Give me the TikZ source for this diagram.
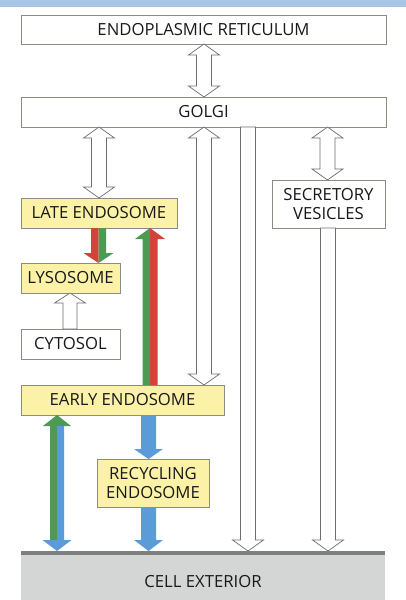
\documentclass[tikz,border=0pt]{standalone}
\usepackage{fontspec}
\setmainfont{Open Sans}
\usetikzlibrary{calc}
\definecolor{bandblue}{HTML}{A7C5E5}
\definecolor{boxline}{HTML}{8C8C84}
\definecolor{yel}{HTML}{FBF2A8}
\definecolor{arline}{HTML}{6E6E6E}
\definecolor{ared}{HTML}{D2443A}
\definecolor{agreen}{HTML}{4E9A55}
\definecolor{ablue}{HTML}{5B9BD8}
\definecolor{extfill}{HTML}{D3D6D4}
\definecolor{extline}{HTML}{7D807F}
\tikzset{
  lbl/.style={font=\fontsize{16.7}{19}\selectfont, text=black!90},
  box/.style={lbl, draw=boxline, line width=0.8pt, inner sep=0pt, outer sep=0pt, align=center},
  ybox/.style={box, fill=yel},
  wbox/.style={box, fill=white},
  hollow/.style={draw=arline, fill=white, line width=0.7pt, line join=miter},
}
% double headed hollow arrow: #1 x-coordinate, #2 top anchor, #3 bottom anchor
\newcommand\vdbl[3]{%
  \draw[hollow] let \p1=(#1 |- #2), \p2=(#1 |- #3) in
    (\x1,\y1) -- (\x1+15.5pt,\y1-11pt) -- (\x1+7.5pt,\y1-11pt) -- (\x1+7.5pt,\y2+11pt)
    -- (\x1+15.5pt,\y2+11pt) -- (\x2,\y2) -- (\x1-15.5pt,\y2+11pt) -- (\x1-7.5pt,\y2+11pt)
    -- (\x1-7.5pt,\y1-11pt) -- (\x1-15.5pt,\y1-11pt) -- cycle;}
% single headed hollow arrow pointing down
\newcommand\vdown[3]{%
  \draw[hollow] let \p1=(#1 |- #2), \p2=(#1 |- #3) in
    (\x1-7.5pt,\y1) -- (\x1+7.5pt,\y1) -- (\x1+7.5pt,\y2+11pt)
    -- (\x1+15.5pt,\y2+11pt) -- (\x2,\y2) -- (\x1-15.5pt,\y2+11pt) -- (\x1-7.5pt,\y2+11pt) -- cycle;}
% single headed hollow arrow pointing up
\newcommand\vup[3]{%
  \draw[hollow] let \p1=(#1 |- #2), \p2=(#1 |- #3) in
    (\x1,\y1) -- (\x1+15.5pt,\y1-10pt) -- (\x1+7pt,\y1-10pt) -- (\x1+7pt,\y2)
    -- (\x1-7pt,\y2) -- (\x1-7pt,\y1-10pt) -- (\x1-15.5pt,\y1-10pt) -- cycle;}
% two-tone arrow pointing down: #4 left colour, #5 right colour
\newcommand\tdown[5]{%
  \fill[#4] let \p1=(#1 |- #2), \p2=(#1 |- #3) in
    (\x1,\y1) -- (\x1-7.5pt,\y1) -- (\x1-7.5pt,\y2+10pt) -- (\x1-15pt,\y2+10pt) -- (\x2,\y2) -- cycle;
  \fill[#5] let \p1=(#1 |- #2), \p2=(#1 |- #3) in
    (\x1,\y1) -- (\x1+7.5pt,\y1) -- (\x1+7.5pt,\y2+10pt) -- (\x1+15pt,\y2+10pt) -- (\x2,\y2) -- cycle;}
% two-tone arrow pointing up
\newcommand\tup[5]{%
  \fill[#4] let \p1=(#1 |- #2), \p2=(#1 |- #3) in
    (\x1,\y1) -- (\x1-15pt,\y1-11pt) -- (\x1-7.5pt,\y1-11pt) -- (\x1-7.5pt,\y2) -- (\x2,\y2) -- cycle;
  \fill[#5] let \p1=(#1 |- #2), \p2=(#1 |- #3) in
    (\x1,\y1) -- (\x1+15pt,\y1-11pt) -- (\x1+7.5pt,\y1-11pt) -- (\x1+7.5pt,\y2) -- (\x2,\y2) -- cycle;}
\begin{document}
\begin{tikzpicture}[x=1pt,y=-1pt]
\useasboundingbox (0,0) rectangle (406,600);
\fill[white] (0,0) rectangle (406,600);
\fill[bandblue] (0,0) rectangle (406,7);

% boxes
\node[wbox, minimum width=365pt, minimum height=29pt] (er) at (203.5,29.5) {ENDOPLASMIC RETICULUM};
\node[wbox, minimum width=365pt, minimum height=30pt] (golgi) at (203.5,112) {GOLGI};
\node[ybox, minimum width=156pt, minimum height=30pt] (late) at (99,213) {LATE ENDOSOME};
\node[ybox, minimum width=99pt, minimum height=30pt] (lys) at (70.5,278) {LYSOSOME};
\node[wbox, minimum width=99pt, minimum height=30pt] (cyto) at (70.5,344) {CYTOSOL};
\node[ybox, minimum width=203pt, minimum height=30pt] (early) at (122.5,400) {EARLY ENDOSOME};
\node[ybox, minimum width=112pt, minimum height=48pt] (recyc) at (153,483) {RECYCLING\\ENDOSOME};
\node[wbox, minimum width=113pt, minimum height=48pt] (secr) at (328.5,204) {SECRETORY\\VESICLES};
\node[fill=extfill, inner sep=0pt, outer sep=0pt, minimum width=364pt, minimum height=49pt] (ext) at (203,575.5) {};
\draw[extline, line width=3.5pt] ([yshift=-1.75pt]ext.north west) -- ([yshift=-1.75pt]ext.north east);
\node[lbl] (extlabel) at (203,582) {CELL EXTERIOR};

% x positions of the arrows
\coordinate (xer) at (204,0);
\coordinate (xgl) at (99,0);
\coordinate (xge) at (204,0);
\coordinate (xgx) at (248,0);
\coordinate (xgs) at (327.5,0);
\coordinate (xsx) at (328,0);
\coordinate (xll) at (98.5,0);
\coordinate (xcl) at (70,0);
\coordinate (xel) at (150,0);
\coordinate (xer2) at (148.5,0);
\coordinate (xrx) at (148.5,0);
\coordinate (xex) at (57,0);

% hollow arrows
\vdbl{xer}{er.south}{golgi.north}
\vdbl{xgl}{golgi.south}{late.north}
\vdbl{xge}{golgi.south}{early.north}
\vdown{xgx}{golgi.south}{ext.north}
\vdbl{xgs}{golgi.south}{secr.north}
\vdown{xsx}{secr.south}{ext.north}
\vup{xcl}{lys.south}{cyto.north}

% coloured arrows
\tdown{xll}{late.south}{lys.north}{ared}{agreen}
\tup{xel}{late.south}{early.north}{agreen}{ared}
\fill[ablue] let \p1=(xer2 |- early.south), \p2=(xer2 |- recyc.north) in
  (\x1-7.5pt,\y1) -- (\x1+7.5pt,\y1) -- (\x1+7.5pt,\y2+10pt) -- (\x1+14.5pt,\y2+10pt)
  -- (\x2,\y2) -- (\x1-14.5pt,\y2+10pt) -- (\x1-7.5pt,\y2+10pt) -- cycle;
\fill[ablue] let \p1=(xrx |- recyc.south), \p2=(xrx |- ext.north) in
  (\x1-7.5pt,\y1) -- (\x1+7.5pt,\y1) -- (\x1+7.5pt,\y2+11pt) -- (\x1+14.5pt,\y2+11pt)
  -- (\x2,\y2) -- (\x1-14.5pt,\y2+11pt) -- (\x1-7.5pt,\y2+11pt) -- cycle;
% early endosome <-> cell exterior
\fill[agreen] let \p1=(xex |- early.south), \p2=(xex |- ext.north) in
  (\x1,\y1) -- (\x1+14pt,\y1-11pt) -- (\x1-14pt,\y1-11pt) -- cycle
  (\x1-7pt,\y1-11pt) rectangle (\x1,\y2+11pt);
\fill[ablue] let \p1=(xex |- early.south), \p2=(xex |- ext.north) in
  (\x1,\y1-11pt) rectangle (\x1+7pt,\y2+11pt)
  (\x2,\y2) -- (\x1+14.5pt,\y2+11pt) -- (\x1-14.5pt,\y2+11pt) -- cycle;
\end{tikzpicture}
\end{document}
